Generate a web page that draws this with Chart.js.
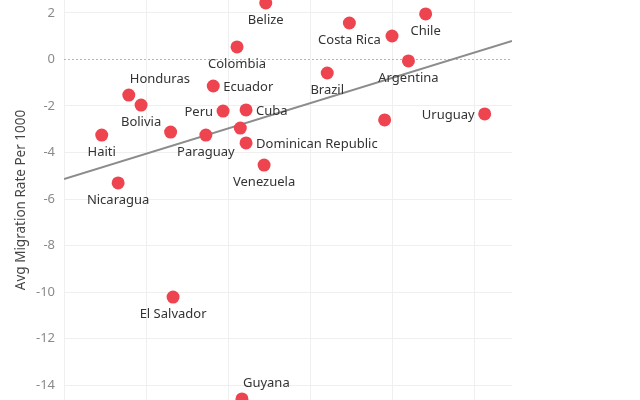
<!DOCTYPE html>
<html>
<head>
<meta charset="utf-8">
<script src="https://cdn.jsdelivr.net/npm/chart.js@4.4.1/dist/chart.umd.min.js"></script>
<style>
  html, body { margin: 0; padding: 0; background: #fff; }
  #wrap { width: 640px; height: 400px; }
</style>
</head>
<body>
<div id="wrap"><canvas id="c" width="640" height="400"></canvas></div>
<script>
// ---- data ----
const countries = ["Belize","Colombia","Costa Rica","","Chile","Argentina","Brazil","Ecuador","Honduras","Bolivia","","Haiti","Paraguay","Peru","Cuba","","Dominican Republic","Venezuela","Nicaragua","","Uruguay","El Salvador","Guyana"];
const xValues = [2.46,2.11,3.48,4.00,4.41,4.20,3.21,1.82,0.79,0.94,1.30,0.46,1.73,1.94,2.22,2.15,2.22,2.44,0.66,3.91,5.13,1.33,2.17];
const migrationRates = [2.43,0.54,1.57,1.01,1.96,-0.06,-0.58,-1.14,-1.53,-1.96,-3.12,-3.25,-3.25,-2.22,-2.17,-2.95,-3.59,-4.54,-5.31,-2.60,-2.34,-10.22,-14.60];
const labelPlacement = ["below","below","below","none","below","below","below","right","aboveRight","below","none","below","below","left","right","none","right","below","below","none","left","below","aboveRight"];
const trendX = [0, 5.463];
const trendY = [-5.14, 0.80];
const xTicks = [0,1,2,3,4,5];
const yTicks = [2,0,-2,-4,-6,-8,-10,-12,-14];

const points = xValues.map((x, i) => ({ x: x, y: migrationRates[i] }));
const trend = trendX.map((x, i) => ({ x: x, y: trendY[i] }));

const labelPlugin = {
  id: 'pointLabels',
  afterDatasetsDraw(chart) {
    const meta = chart.getDatasetMeta(1);
    const ctx = chart.ctx;
    ctx.save();
    ctx.font = '13px "Noto Sans"';
    ctx.fillStyle = '#333';
    ctx.textBaseline = 'middle';
    meta.data.forEach((el, i) => {
      const p = labelPlacement[i];
      const t = countries[i];
      if (p === 'none' || !t) return;
      const x = el.x, y = el.y;
      if (p === 'below') { ctx.textAlign = 'center'; ctx.fillText(t, x, y + 17); }
      else if (p === 'right') { ctx.textAlign = 'left'; ctx.fillText(t, x + 10, y + 1); }
      else if (p === 'left') { ctx.textAlign = 'right'; ctx.fillText(t, x - 10, y + 1); }
      else if (p === 'aboveRight') { ctx.textAlign = 'left'; ctx.fillText(t, x + 1, y - 16); }
    });
    ctx.restore();
  }
};

new Chart(document.getElementById('c'), {
  type: 'scatter',
  data: {
    datasets: [
      {
        type: 'line',
        data: trend,
        borderColor: '#8c8c8c',
        borderWidth: 2,
        pointRadius: 0,
        fill: false,
        order: 2
      },
      {
        data: points,
        backgroundColor: '#ee4450',
        borderWidth: 0,
        pointRadius: 6.5,
        pointHoverRadius: 6.5,
        clip: false,
        order: 1
      }
    ]
  },
  options: {
    responsive: false,
    animation: false,
    layout: { autoPadding: false, padding: { left: 0, right: 128, top: 0, bottom: 0 } },
    plugins: { legend: { display: false }, tooltip: { enabled: false } },
    scales: {
      x: {
        type: 'linear',
        min: 0,
        max: 5.463,
        afterFit(s) { s.height = 0; s.paddingLeft = 0; s.paddingRight = 0; },
        afterBuildTicks(s) { s.ticks = xTicks.map(v => ({ value: v })); },
        ticks: { display: false },
        grid: { color: '#efefef', lineWidth: 1, drawTicks: false },
        border: { display: false }
      },
      y: {
        min: -14.645,
        max: 2.559,
        afterFit(s) { s.width = 64; s.paddingTop = 0; s.paddingBottom = 0; },
        afterBuildTicks(s) { s.ticks = yTicks.map(v => ({ value: v })); },
        ticks: {
          color: '#8a8a8a',
          font: { family: 'Noto Sans', size: 13 },
          padding: 9,
          callback: v => String(v)
        },
        grid: {
          drawTicks: false,
          color: ctx => (ctx.tick && ctx.tick.value === 0) ? '#ffffff' : '#efefef',
          lineWidth: 1
        },
        border: { display: false },
        title: {
          display: true,
          text: 'Avg Migration Rate Per 1000',
          color: '#444',
          font: { family: 'Noto Sans', size: 13.5 },
          padding: { top: 13, bottom: 0 }
        }
      }
    }
  },
  plugins: [labelPlugin, {
    id: 'dashZero',
    beforeDatasetsDraw(chart) {
      const y = chart.scales.y.getPixelForValue(0);
      const a = chart.chartArea;
      const ctx = chart.ctx;
      ctx.save();
      ctx.strokeStyle = '#b5b5b5';
      ctx.lineWidth = 1;
      ctx.setLineDash([2, 2]);
      ctx.beginPath(); ctx.moveTo(a.left, Math.round(y) + 0.5); ctx.lineTo(a.right, Math.round(y) + 0.5); ctx.stroke();
      ctx.restore();
    }
  }]
});
</script>
</body>
</html>
